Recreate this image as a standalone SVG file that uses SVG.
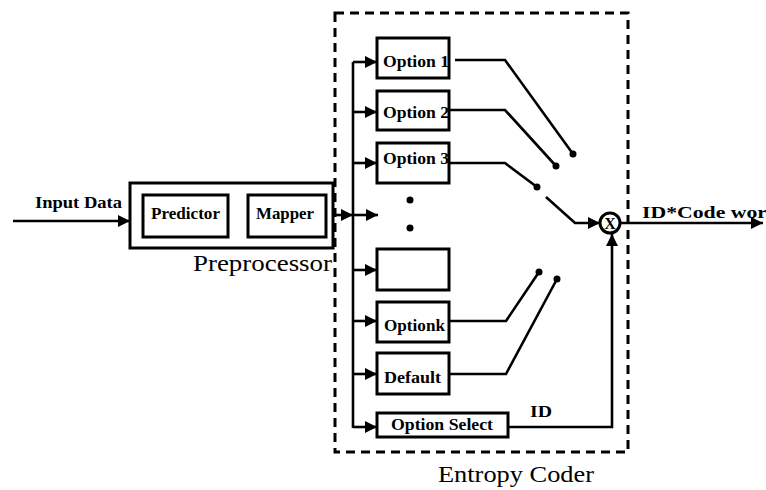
<svg xmlns="http://www.w3.org/2000/svg" width="766" height="490" viewBox="0 0 766 490" font-family="'Liberation Serif', 'Times New Roman', 'DejaVu Serif', serif">
<style>
.box{fill:#fff;stroke:#000;stroke-width:3}
.ln{fill:none;stroke:#000;stroke-width:2.6}
.lbl{font-weight:bold;font-size:16px;fill:#000}
.big{font-size:23px;fill:#000}
.dot{fill:#000}
</style>
<defs>
<marker id="a" viewBox="0 0 10 10" refX="10" refY="5" markerWidth="12" markerHeight="12" markerUnits="userSpaceOnUse" orient="auto">
<path d="M0,0 L10,5 L0,10 z" fill="#000"/>
</marker>
</defs>
<rect width="766" height="490" fill="#fff"/>

<g id="entropy-coder">
<rect x="335" y="13" width="293" height="439" fill="none" stroke="#000" stroke-width="3" stroke-dasharray="9,6"/>
<text class="big" x="438" y="482" textLength="156" lengthAdjust="spacingAndGlyphs">Entropy Coder</text>
</g>

<g id="preprocessor">
<rect class="box" x="130" y="183" width="203" height="65"/>
<text class="big" x="193" y="271" textLength="139" lengthAdjust="spacingAndGlyphs">Preprocessor</text>
</g>
<g id="predictor">
<rect class="box" x="143" y="195" width="85" height="42"/>
<text class="lbl" x="151" y="219" textLength="69" lengthAdjust="spacingAndGlyphs">Predictor</text>
</g>
<g id="mapper">
<rect class="box" x="248" y="195" width="78" height="42"/>
<text class="lbl" x="256" y="219" textLength="58" lengthAdjust="spacingAndGlyphs">Mapper</text>
</g>

<g id="option1"><rect class="box" x="377" y="38" width="72" height="40"/><text class="lbl" x="383" y="67" textLength="66" lengthAdjust="spacingAndGlyphs">Option 1</text></g>
<g id="option2"><rect class="box" x="377" y="91" width="72" height="39"/><text class="lbl" x="383" y="118" textLength="66" lengthAdjust="spacingAndGlyphs">Option 2</text></g>
<g id="option3"><rect class="box" x="377" y="143" width="72" height="40"/><text class="lbl" x="383" y="164" textLength="66" lengthAdjust="spacingAndGlyphs">Option 3</text></g>
<g id="ellipsis"><circle class="dot" cx="410" cy="200" r="3.5"/><circle class="dot" cx="410" cy="228" r="3.5"/></g>
<g id="empty-option"><rect class="box" x="377" y="249" width="72" height="41"/></g>
<g id="optionk"><rect class="box" x="377" y="302" width="72" height="40"/><text class="lbl" x="384" y="331" textLength="61" lengthAdjust="spacingAndGlyphs">Optionk</text></g>
<g id="default"><rect class="box" x="377" y="353" width="72" height="41"/><text class="lbl" x="384" y="383" textLength="57" lengthAdjust="spacingAndGlyphs">Default</text></g>
<g id="option-select"><rect class="box" x="377" y="413" width="131" height="24"/><text class="lbl" x="391" y="430" textLength="102" lengthAdjust="spacingAndGlyphs">Option Select</text></g>

<g id="multiplier">
<circle cx="610" cy="223" r="10" fill="#fff" stroke="#000" stroke-width="3"/>
<text x="610" y="229" text-anchor="middle" font-size="16" font-weight="bold">X</text>
</g>

<g id="connectors">
<line class="ln" x1="13" y1="221" x2="130" y2="221" marker-end="url(#a)"/>
<text class="lbl" x="35" y="208" textLength="87" lengthAdjust="spacingAndGlyphs">Input Data</text>
<line class="ln" x1="333" y1="215" x2="353" y2="215" marker-end="url(#a)"/>
<line class="ln" x1="353" y1="62" x2="353" y2="428"/>
<line class="ln" x1="353" y1="215" x2="378" y2="215" marker-end="url(#a)"/>
<line class="ln" x1="353" y1="62" x2="377" y2="62" marker-end="url(#a)"/>
<line class="ln" x1="353" y1="112" x2="377" y2="112" marker-end="url(#a)"/>
<line class="ln" x1="353" y1="163" x2="377" y2="163" marker-end="url(#a)"/>
<line class="ln" x1="353" y1="270" x2="377" y2="270" marker-end="url(#a)"/>
<line class="ln" x1="353" y1="321" x2="377" y2="321" marker-end="url(#a)"/>
<line class="ln" x1="353" y1="374" x2="377" y2="374" marker-end="url(#a)"/>
<line class="ln" x1="353" y1="427" x2="377" y2="427" marker-end="url(#a)"/>

<polyline class="ln" points="455,60 505,60 573,154"/>
<circle class="dot" cx="573" cy="154" r="3.5"/>
<polyline class="ln" points="449,110 505,110 556,166"/>
<circle class="dot" cx="556" cy="166" r="3.5"/>
<polyline class="ln" points="449,163 505,163 537,187"/>
<circle class="dot" cx="537" cy="187" r="3.5"/>
<polyline class="ln" points="449,321 506,321 539,272"/>
<circle class="dot" cx="539" cy="272" r="3.5"/>
<polyline class="ln" points="449,374 506,374 557,279"/>
<circle class="dot" cx="557" cy="279" r="3.5"/>

<polyline class="ln" points="546,197 575,223 600,223" marker-end="url(#a)"/>
<polyline class="ln" points="508,427 612,427 612,234" marker-end="url(#a)"/>
<text class="lbl" x="530" y="417" font-size="18" textLength="22" lengthAdjust="spacingAndGlyphs">ID</text>
<line class="ln" x1="620" y1="223" x2="763" y2="223" marker-end="url(#a)"/>
<text class="lbl" x="642" y="218" font-size="18" textLength="137" lengthAdjust="spacingAndGlyphs">ID*Code word</text>
</g>
</svg>
